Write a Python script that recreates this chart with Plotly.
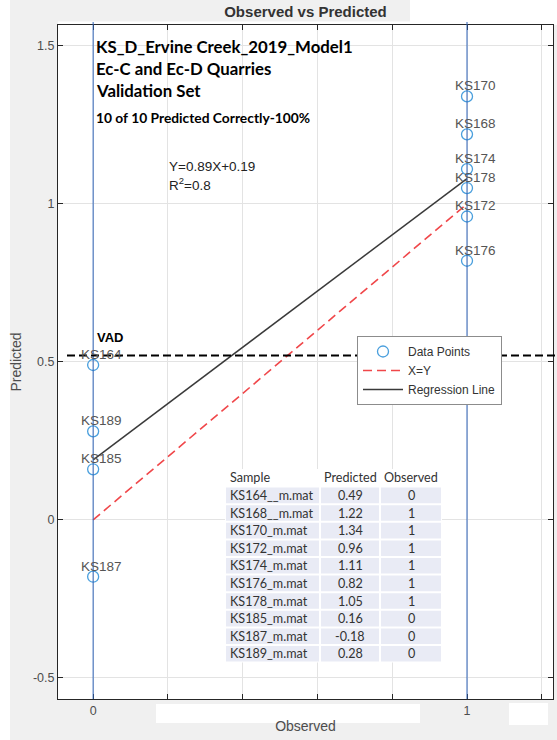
import plotly.graph_objects as go

# ---------------- data ----------------
samples = ["KS164__m.mat", "KS168__m.mat", "KS170_m.mat", "KS172_m.mat", "KS174_m.mat",
           "KS176_m.mat", "KS178_m.mat", "KS185_m.mat", "KS187_m.mat", "KS189_m.mat"]
point_labels = ["KS164", "KS168", "KS170", "KS172", "KS174", "KS176", "KS178", "KS185", "KS187", "KS189"]
predicted = [0.49, 1.22, 1.34, 0.96, 1.11, 0.82, 1.05, 0.16, -0.18, 0.28]
observed = [0, 1, 1, 1, 1, 1, 1, 0, 0, 0]
table_header = ["Sample", "Predicted", "Observed"]

xy_x = [0, 1]
xy_y = [0, 1]
reg_x = [0, 1]
reg_y = [0.19, 1.08]
vad_level = 0.52

x_tickvals = [0, 1]
x_ticktext = ["0", "1"]
x_minor_step = 0.2
y_tickvals = [-0.5, 0, 0.5, 1, 1.5]
y_ticktext = ["-0.5", "0", "0.5", "1", "1.5"]

# ---------------- layout geometry ----------------
W, H = 557, 740
ML, MR, MT, MB = 58, 4, 25, 41
PW, PH = W - ML - MR, H - MT - MB


def px(xp):
    return (xp - ML) / PW


def py(yp):
    return (H - MB - yp) / PH


fig = go.Figure()

# data points
fig.add_trace(go.Scatter(x=observed, y=predicted, mode="markers", name="Data Points", legendrank=1,
                         marker=dict(symbol="circle-open", size=11, color="#4A9FDD",
                                     line=dict(width=1.3, color="#4A9FDD"))))
# X=Y line
fig.add_trace(go.Scatter(x=xy_x, y=xy_y, mode="lines", name="X=Y", legendrank=2,
                         line=dict(color="#F0474A", width=1.6, dash="9px,5px")))
# regression line
fig.add_trace(go.Scatter(x=reg_x, y=reg_y, mode="lines", name="Regression Line", legendrank=3,
                         line=dict(color="#3A3A3A", width=1.5)))

shapes = []
annotations = []

# white strip at far left
shapes.append(dict(type="rect", xref="paper", yref="paper", x0=px(0), x1=px(10), y0=py(740), y1=py(0),
                   fillcolor="white", line=dict(width=0), layer="below"))
# thin white strip just above the axes box
shapes.append(dict(type="rect", xref="paper", yref="paper", x0=0, x1=px(557), y0=1, y1=py(21.5),
                   fillcolor="white", line=dict(width=0), layer="below"))
# vertical blue lines at observed 0 and 1
for xv in [0, 1]:
    shapes.append(dict(type="line", xref="x", yref="paper", x0=xv, x1=xv, y0=0, y1=py(22),
                       line=dict(color="#2F63B8", width=1), layer="above"))
# VAD dashed line
shapes.append(dict(type="line", xref="paper", yref="y", x0=px(67), x1=px(557), y0=vad_level, y1=vad_level,
                   line=dict(color="black", width=2, dash="8px,4px"), layer="above"))
# white patches covering tick labels / top right
shapes.append(dict(type="rect", xref="paper", yref="paper", x0=px(410), x1=px(557), y0=py(22), y1=py(0),
                   fillcolor="white", line=dict(width=0), layer="above"))
shapes.append(dict(type="rect", xref="paper", yref="paper", x0=px(156), x1=px(420), y0=py(723), y1=py(704),
                   fillcolor="white", line=dict(width=0), layer="above"))
shapes.append(dict(type="rect", xref="paper", yref="paper", x0=px(509), x1=px(548), y0=py(725), y1=py(703),
                   fillcolor="white", line=dict(width=0), layer="above"))

# point labels
for lab, ox, pv in zip(point_labels, observed, predicted):
    annotations.append(dict(text=lab, x=ox, y=pv, xref="x", yref="y", showarrow=False,
                            xanchor="center", yanchor="bottom", xshift=8, yshift=1,
                            font=dict(family="Liberation Sans, Arial", size=13.5, color="#555555")))

# ---------------- table (shapes + text) ----------------
col_edges = [225, 320, 380, 442]
tab_top, row_h = 469, 17.6
n_rows = len(samples) + 1
shapes.append(dict(type="rect", xref="paper", yref="paper", x0=px(col_edges[0]), x1=px(col_edges[-1]),
                   y0=py(tab_top + n_rows * row_h), y1=py(tab_top),
                   fillcolor="white", line=dict(width=0), layer="above"))
cols = [samples, [f"{v:.2f}" for v in predicted], [str(v) for v in observed]]
tfont = dict(family="Lato, Open Sans", size=12.6, color="#333333")
for c in range(3):
    x0, x1 = col_edges[c], col_edges[c + 1]
    for r in range(n_rows):
        y0 = tab_top + r * row_h
        if r > 0:
            shapes.append(dict(type="rect", xref="paper", yref="paper",
                               x0=px(x0 + 1), x1=px(x1 - 1), y0=py(y0 + row_h - 1), y1=py(y0 + 1),
                               fillcolor="#E9EBF5", line=dict(width=0), layer="above"))
        txt = table_header[c] if r == 0 else cols[c][r - 1]
        if c == 0:
            annotations.append(dict(text=txt, xref="paper", yref="paper", x=px(x0 + 3), y=py(y0 + row_h / 2),
                                    xanchor="left", yanchor="middle", showarrow=False, font=tfont))
        else:
            annotations.append(dict(text=txt, xref="paper", yref="paper", x=px((x0 + x1) / 2),
                                    y=py(y0 + row_h / 2), xanchor="center", yanchor="middle",
                                    showarrow=False, font=tfont))

# ---------------- text block ----------------
big = dict(family="Lato, Open Sans", size=16.8, color="black")
for txt, yp in [("<b>KS_D_Ervine Creek_2019_Model1</b>", 46),
                ("<b>Ec-C and Ec-D Quarries</b>", 68),
                ("<b>Validation Set</b>", 90)]:
    annotations.append(dict(text=txt, xref="paper", yref="paper", x=px(94), y=py(yp),
                            xanchor="left", yanchor="middle", showarrow=False, font=big))
annotations.append(dict(text="<b>10 of 10 Predicted Correctly-100%</b>", xref="paper", yref="paper",
                        x=px(94), y=py(117), xanchor="left", yanchor="middle", showarrow=False,
                        font=dict(family="Lato, Open Sans", size=13.8, color="black")))
eqf = dict(family="Liberation Sans, Arial", size=13.5, color="#222222")
annotations.append(dict(text="Y=0.89X+0.19", xref="paper", yref="paper", x=px(167), y=py(167),
                        xanchor="left", yanchor="middle", showarrow=False, font=eqf))
annotations.append(dict(text="R<sup>2</sup>=0.8", xref="paper", yref="paper", x=px(167), y=py(184),
                        xanchor="left", yanchor="middle", showarrow=False, font=eqf))
annotations.append(dict(text="<b>VAD</b>", xref="paper", yref="paper", x=px(95), y=py(337),
                        xanchor="left", yanchor="middle", showarrow=False,
                        font=dict(family="Liberation Sans, Arial", size=13, color="black")))

axis_common = dict(showline=True, linecolor="#262626", linewidth=1, mirror="ticks",
                   ticks="inside", ticklen=5, tickcolor="#262626",
                   showgrid=True, gridcolor="#E3E3E3", gridwidth=1, zeroline=False,
                   tickfont=dict(family="Liberation Sans, Arial", size=12.5, color="#4D4D4D"))

fig.update_layout(
    width=W, height=H,
    margin=dict(l=ML, r=MR, t=MT, b=MB),
    paper_bgcolor="#F0F0F0", plot_bgcolor="white",
    title=dict(text="<b>Observed vs Predicted</b>", x=0.5, y=1 - 12 / H, xref="paper",
               xanchor="center", yanchor="middle",
               font=dict(family="Liberation Sans, Arial", size=15, color="#333333")),
    xaxis=dict(range=[-0.094, 1.23], tickvals=x_tickvals, ticktext=x_ticktext,
               minor=dict(tick0=0, dtick=x_minor_step, showgrid=True, gridcolor="#E3E3E3",
                          ticks="inside", ticklen=5, tickcolor="#262626"),
               title=dict(text="Observed", standoff=4,
                          font=dict(family="Liberation Sans, Arial", size=14, color="#4D4D4D")),
               **axis_common),
    yaxis=dict(range=[-0.567, 1.566], tickvals=y_tickvals, ticktext=y_ticktext,
               title=dict(text="Predicted", standoff=8,
                          font=dict(family="Liberation Sans, Arial", size=14, color="#4D4D4D")),
               **axis_common),
    legend=dict(x=px(357), y=py(336), xanchor="left", yanchor="top",
                bgcolor="white", bordercolor="#8C8C8C", borderwidth=1, itemwidth=40,
                font=dict(family="Liberation Sans, Arial", size=12, color="#333333"),
                traceorder="normal", tracegroupgap=0),
    shapes=shapes,
    annotations=annotations,
    showlegend=True,
)

fig.write_html("out.html")
